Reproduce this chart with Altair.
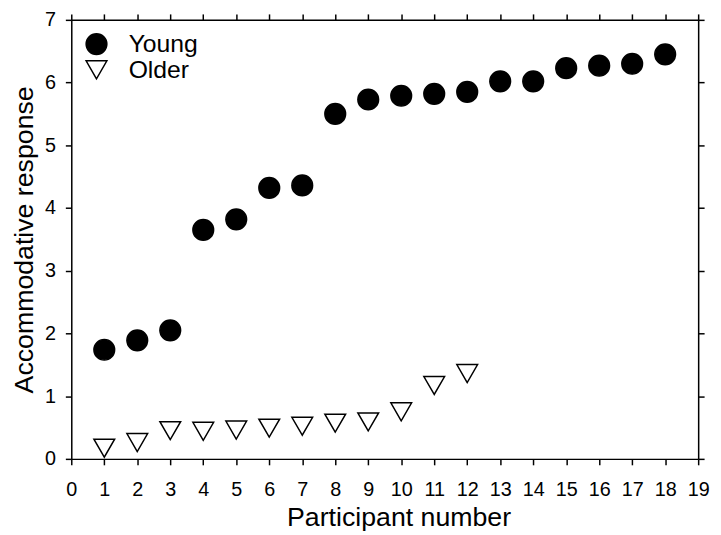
import altair as alt
import pandas as pd

young_participants = list(range(1, 19))
young_values = [1.74, 1.89, 2.05, 3.65, 3.82, 4.32, 4.36, 5.50, 5.73, 5.79,
                5.82, 5.85, 6.02, 6.02, 6.23, 6.27, 6.30, 6.45]
older_participants = list(range(1, 13))
older_values = [0.17, 0.26, 0.45, 0.44, 0.46, 0.49, 0.52, 0.57, 0.59, 0.75,
                1.17, 1.36]
groups = ["Young", "Older"]
x_ticks = list(range(0, 20))
y_ticks = list(range(0, 8))

df = pd.concat([
    pd.DataFrame({"participant": young_participants, "response": young_values, "group": "Young"}),
    pd.DataFrame({"participant": older_participants, "response": older_values, "group": "Older"}),
], ignore_index=True)

FONT = "Liberation Sans"

legend = alt.Legend(
    title=None, orient="none", legendX=13, legendY=12,
    labelFontSize=25, labelFont=FONT, labelColor="black",
    symbolSize=440, symbolStrokeColor="black", symbolStrokeWidth=1.5,
    labelOffset=20, padding=0, rowPadding=-3,
)

xs = alt.Scale(domain=[0, 19], nice=False, zero=False)
ys = alt.Scale(domain=[0, 7], nice=False)

axis_common = dict(
    domainColor="black", domainWidth=1.5, tickColor="black", tickWidth=1.5,
    tickSize=6, grid=False, labelFont=FONT, labelFontSize=20, labelColor="black",
    labelOverlap=False, labelFlush=False,
    titleFont=FONT, titleFontSize=27, titleColor="black", titleFontWeight="normal",
)

points = alt.Chart(df).mark_point(filled=True, stroke="black", strokeWidth=1.5, size=440, opacity=1).encode(
    x=alt.X("participant:Q", scale=xs,
            axis=alt.Axis(orient="bottom", values=x_ticks, title="Participant number",
                          labelPadding=15, titlePadding=5, titleX=331, **axis_common)),
    y=alt.Y("response:Q", scale=ys,
            axis=alt.Axis(orient="left", values=y_ticks, title="Accommodative response",
                          labelPadding=10, titlePadding=6, **axis_common)),
    shape=alt.Shape("group:N", scale=alt.Scale(domain=groups, range=["circle", "triangle-down"]), legend=legend),
    fill=alt.Fill("group:N", scale=alt.Scale(domain=groups, range=["black", "white"]), legend=legend),
    stroke=alt.Stroke("group:N", scale=alt.Scale(domain=groups, range=["black", "black"]), legend=legend),
)

frame = alt.Chart(df).mark_point(opacity=0).encode(
    x=alt.X("participant:Q", scale=xs,
            axis=alt.Axis(orient="top", values=x_ticks, title=None, labels=False, **axis_common)),
    y=alt.Y("response:Q", scale=ys,
            axis=alt.Axis(orient="right", values=y_ticks, title=None, labels=False, **axis_common)),
)

chart = alt.layer(points, frame).resolve_axis(x="independent", y="independent").properties(
    width=634, height=444,
    autosize=alt.AutoSizeParams(type="none"),
    padding={"left": 64, "top": 9, "right": 15, "bottom": 74},
).configure_view(stroke=None).configure(background="white")

chart.save("out.html", embed_options={"renderer": "svg", "actions": False})
